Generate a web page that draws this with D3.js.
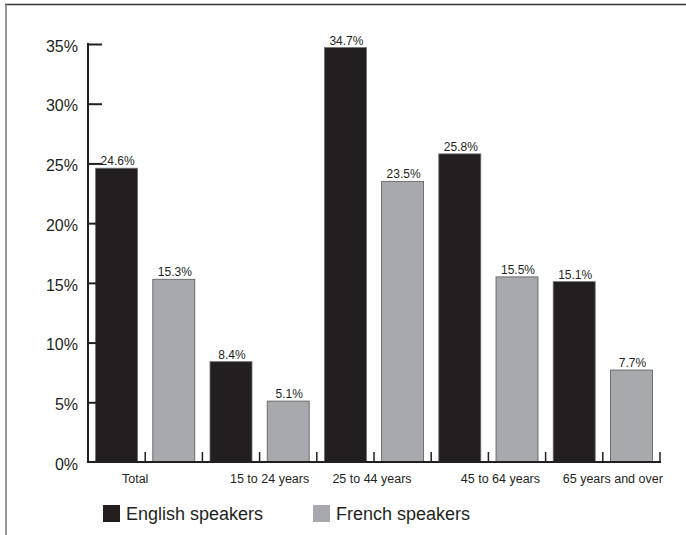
<!DOCTYPE html>
<html><head><meta charset="utf-8">
<script src="https://cdn.jsdelivr.net/npm/d3@7"></script>
<style>
html,body{margin:0;padding:0;background:#fff;}
svg{display:block;}
</style></head>
<body>
<script>
const categories = ["Total", "15 to 24 years", "25 to 44 years", "45 to 64 years", "65 years and over"];
const seriesNames = ["English speakers", "French speakers"];
const english = [24.6, 8.4, 34.7, 25.8, 15.1];
const french = [15.3, 5.1, 23.5, 15.5, 7.7];
const yTicks = [0, 5, 10, 15, 20, 25, 30, 35];
const colors = ["#231f20", "#a7a9ac"];
const strokes = ["#6d6e71", "#58595b"];

const W = 686, H = 535;
const svg = d3.select("body").append("svg").attr("width", W).attr("height", H);
const narrow = "'Liberation Sans', Arial, sans-serif";

// frame
svg.append("line").attr("x1", 5).attr("x2", W).attr("y1", 4.5).attr("y2", 4.5).attr("stroke", "#333").attr("stroke-width", 1.3);
svg.append("line").attr("x1", 6).attr("x2", 6).attr("y1", 4).attr("y2", H).attr("stroke", "#777").attr("stroke-width", 1.5);

const x0 = 88, x1 = 660, yTop = 44, yBot = 462;
const slots = [];
categories.forEach((c, i) => { slots.push(c + "|0"); slots.push(c + "|1"); });
const x = d3.scaleBand().domain(slots).range([x0, x1]).paddingInner(0).paddingOuter(0);
const y = d3.scaleLinear().domain([0, 35]).range([yBot, yTop]);
const barW = 42;

const data = [];
categories.forEach((c, i) => {
  data.push({cat: c, s: 0, v: english[i]});
  data.push({cat: c, s: 1, v: french[i]});
});

// bars
svg.selectAll("rect.bar").data(data).enter().append("rect")
  .attr("class", "bar")
  .attr("x", d => x(d.cat + "|" + d.s) + (x.bandwidth() - barW) / 2)
  .attr("y", d => y(d.v))
  .attr("width", barW)
  .attr("height", d => y(0) - y(d.v))
  .attr("fill", d => colors[d.s])
  .attr("stroke", d => strokes[d.s])
  .attr("stroke-width", 0.8);

// value labels
svg.selectAll("text.val").data(data).enter().append("text")
  .attr("class", "val")
  .attr("x", d => x(d.cat + "|" + d.s) + x.bandwidth() / 2 + 1)
  .attr("y", d => y(d.v) - 3)
  .attr("text-anchor", "middle")
  .attr("font-family", narrow)
  .attr("font-size", 12)
  .attr("fill", "#231f20")
  .text(d => d.v.toFixed(1) + "%");

// y axis
const yAxis = d3.axisRight(y).tickValues(yTicks).tickSize(14).tickFormat(d => d + "%");
const gy = svg.append("g").attr("transform", `translate(${x0},0)`).call(yAxis);
gy.select(".domain").remove();
gy.selectAll(".tick line").attr("stroke", "#231f20").attr("stroke-width", 2);
gy.selectAll(".tick text").attr("x", -10).attr("text-anchor", "end")
  .attr("font-family", "'Liberation Sans', Arial, sans-serif").attr("font-size", 16).attr("fill", "#231f20").attr("dy", "0.45em");
gy.selectAll(".tick").filter(d => d === 0).select("line").remove();
svg.append("line").attr("x1", x0).attr("x2", x0).attr("y1", yTop - 1).attr("y2", yBot + 1).attr("stroke", "#231f20").attr("stroke-width", 2);

// x axis baseline & ticks
svg.append("line").attr("x1", x0 - 1).attr("x2", x1 + 1).attr("y1", yBot).attr("y2", yBot).attr("stroke", "#231f20").attr("stroke-width", 2);
const bounds = slots.map(s => x(s)).concat([x1]);
svg.selectAll("line.xt").data(bounds.slice(1)).enter().append("line")
  .attr("x1", d => d).attr("x2", d => d).attr("y1", yBot).attr("y2", yBot - 10)
  .attr("stroke", "#231f20").attr("stroke-width", 1.5);

// category labels
svg.selectAll("text.cat").data(categories).enter().append("text")
  .attr("class", "cat")
  .attr("x", (c, i) => x(c + "|1") + [-10, 10, -2, 12, 10][i])
  .attr("y", 483)
  .attr("text-anchor", "middle")
  .attr("font-family", narrow)
  .attr("font-size", 12.5)
  .attr("fill", "#231f20")
  .text(c => c);

// legend
const legX = [103, 313];
const lg = svg.selectAll("g.leg").data(seriesNames).enter().append("g")
  .attr("transform", (d, i) => `translate(${legX[i]},505)`);
lg.append("rect").attr("width", 17).attr("height", 17).attr("fill", (d, i) => colors[i]);
lg.append("text").attr("x", 23).attr("y", 14.5)
  .attr("font-family", "'Liberation Sans', Arial, sans-serif").attr("font-size", 18).attr("fill", "#231f20")
  .text(d => d);
</script>
</body></html>
